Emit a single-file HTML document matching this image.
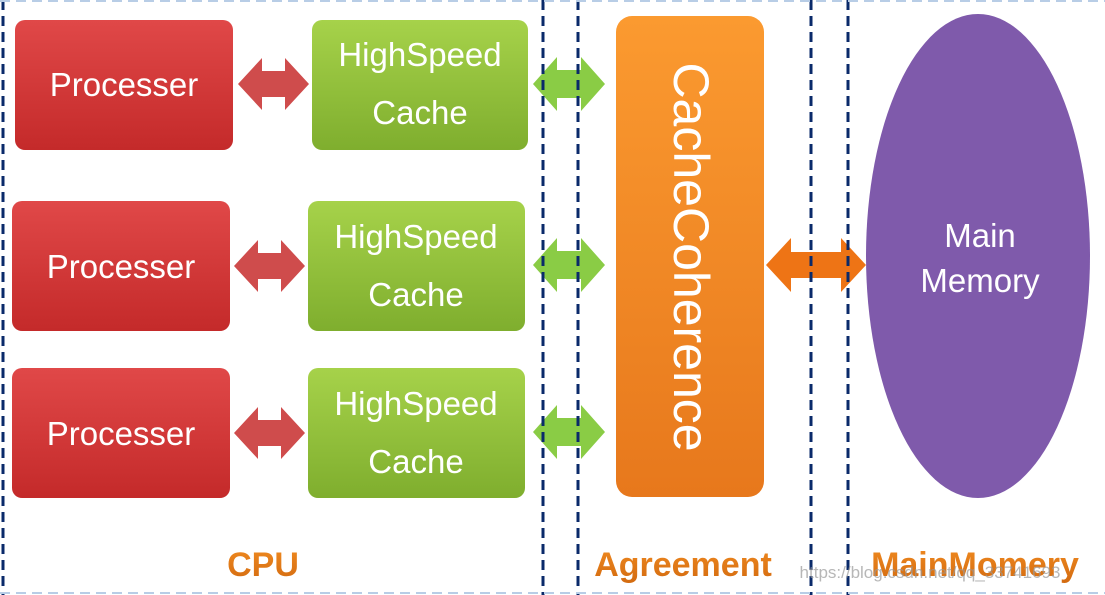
<!DOCTYPE html>
<html><head><meta charset="utf-8"><style>
html,body{margin:0;padding:0;background:#fff;}
svg{display:block;}
text{font-family:"Liberation Sans",sans-serif;}
</style></head><body>
<svg width="1105" height="595" viewBox="0 0 1105 595" xmlns="http://www.w3.org/2000/svg">
<defs>
<linearGradient id="r" x1="0" y1="0" x2="0" y2="1"><stop offset="0" stop-color="#e04848"/><stop offset="1" stop-color="#c42a2a"/></linearGradient>
<linearGradient id="g" x1="0" y1="0" x2="0" y2="1"><stop offset="0" stop-color="#a6d24a"/><stop offset="1" stop-color="#7fae2e"/></linearGradient>
<linearGradient id="o" x1="0" y1="0" x2="0" y2="1"><stop offset="0" stop-color="#fb9a30"/><stop offset="1" stop-color="#e7781c"/></linearGradient>
<linearGradient id="lab" x1="0" y1="0" x2="0" y2="1"><stop offset="0" stop-color="#f08a20"/><stop offset="1" stop-color="#d26a10"/></linearGradient>
</defs>
<!-- boxes -->
<rect x="15" y="20" width="218" height="130" rx="10" fill="url(#r)"/>
<rect x="12" y="201" width="218" height="130" rx="10" fill="url(#r)"/>
<rect x="12" y="368" width="218" height="130" rx="10" fill="url(#r)"/>
<rect x="312" y="20" width="216" height="130" rx="10" fill="url(#g)"/>
<rect x="308" y="201" width="217" height="130" rx="10" fill="url(#g)"/>
<rect x="308" y="368" width="217" height="130" rx="10" fill="url(#g)"/>
<rect x="616" y="16" width="148" height="481" rx="16" fill="url(#o)"/>
<ellipse cx="978" cy="256" rx="112" ry="242" fill="#7f5aab"/>
<!-- arrows -->
<g fill="#cf4c4c">
<path d="M238,84 L262,58 L262,71 L285,71 L285,58 L309,84 L285,110 L285,97 L262,97 L262,110 Z"/>
<path d="M234,266 L258,240 L258,253 L281,253 L281,240 L305,266 L281,292 L281,279 L258,279 L258,292 Z"/>
<path d="M234,433 L258,407 L258,420 L281,420 L281,407 L305,433 L281,459 L281,446 L258,446 L258,459 Z"/>
</g>
<g fill="#8acc45">
<path d="M533,84 L557,57 L557,70 L581,70 L581,57 L605,84 L581,111 L581,98 L557,98 L557,111 Z"/>
<path d="M533,265 L557,238 L557,251 L581,251 L581,238 L605,265 L581,292 L581,279 L557,279 L557,292 Z"/>
<path d="M533,432 L557,405 L557,418 L581,418 L581,405 L605,432 L581,459 L581,446 L557,446 L557,459 Z"/>
</g>
<path fill="#ee7415" d="M766,265 L791,238 L791,252 L841,252 L841,238 L866,265 L841,292 L841,278 L791,278 L791,292 Z"/>
<!-- dashed lines -->
<g stroke="#0a2a6a" stroke-width="3" stroke-dasharray="10,6">
<line x1="3" y1="0" x2="3" y2="595"/>
<line x1="543" y1="0" x2="543" y2="595"/>
<line x1="578" y1="0" x2="578" y2="595"/>
<line x1="811" y1="0" x2="811" y2="595"/>
<line x1="848" y1="0" x2="848" y2="595"/>
</g>
<g stroke="#b8cde6" stroke-width="2" stroke-dasharray="10,6">
<line x1="0" y1="1" x2="1105" y2="1"/>
<line x1="0" y1="593" x2="1105" y2="593"/>
</g>
<!-- text -->
<g fill="#fff" font-size="33" text-anchor="middle">
<text x="124" y="96">Processer</text>
<text x="121" y="278">Processer</text>
<text x="121" y="445">Processer</text>
<text x="420" y="66">HighSpeed</text>
<text x="420" y="124">Cache</text>
<text x="416" y="248">HighSpeed</text>
<text x="416" y="306">Cache</text>
<text x="416" y="415">HighSpeed</text>
<text x="416" y="473">Cache</text>
<text x="980" y="247">Main</text>
<text x="980" y="292">Memory</text>
<text transform="translate(674,257) rotate(90)" font-size="50">CacheCoherence</text>
</g>
<g fill="url(#lab)" font-size="34" font-weight="bold" text-anchor="middle">
<text x="263" y="576">CPU</text>
<text x="683" y="576">Agreement</text>
<text x="975" y="576">MainMomery</text>
</g>
<text x="930" y="578" font-family="Liberation Mono,monospace" font-size="17" fill="#999" fill-opacity="0.7" text-anchor="middle">https://blog.csdn.net/qq_33741693</text>
</svg>
</body></html>
